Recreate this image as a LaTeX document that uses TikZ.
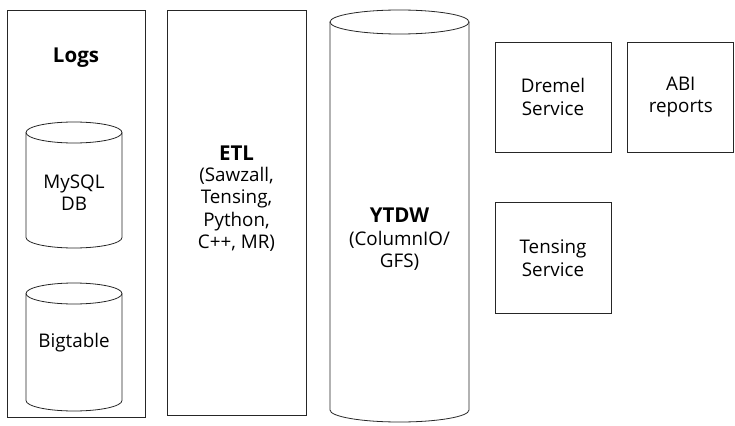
\documentclass[tikz,border=0pt]{standalone}
\usepackage{fontspec}
\setmainfont{Open Sans}
\usetikzlibrary{positioning}

\tikzset{
  box/.style={draw=black!85, line width=0.8pt, inner sep=0pt},
  label/.style={align=center, font=\fontsize{18.8}{22.3}\selectfont},
  title/.style={align=center, font=\fontsize{20.5}{24}\selectfont\bfseries},
  drum/.style={draw=black!85, line width=0.8pt}
}

\begin{document}
\begin{tikzpicture}[x=1pt,y=-1pt]
    \useasboundingbox (0,0) rectangle (735,425);

    % logs column
    \node[box, minimum width=138pt, minimum height=407pt] (logsbox) at (76,213.5) {};
    \node[title] (logs) at (76,58) {Logs};

    % MySQL drum
    \draw[drum] (26,132.5) -- (26,237.5) arc[start angle=180, end angle=0, x radius=48, y radius=10.5] -- (122,132.5);
    \draw[drum] (74,132.5) ellipse[x radius=48, y radius=10.5];
    \node[label] (mysql) at (74,193) {MySQL\\DB};

    % Bigtable drum
    \draw[drum] (26,293.5) -- (26,400.5) arc[start angle=180, end angle=0, x radius=48, y radius=10.5] -- (122,293.5);
    \draw[drum] (74,293.5) ellipse[x radius=48, y radius=10.5];
    \node[label] (bigtable) at (74,343) {Bigtable};

    % ETL column
    \node[box, minimum width=139pt, minimum height=405pt] (etlbox) at (236.5,212.5) {};
    \node[title] (etl) at (236.5,153) {ETL};
    \node[label, below=0pt of etl] (etltools) {(Sawzall,\\Tensing,\\Python,\\C++, MR)};

    % YTDW drum
    \draw[drum] (330,22) -- (330,410) arc[start angle=180, end angle=0, x radius=69.5, y radius=12] -- (469,22);
    \draw[drum] (399.5,22) ellipse[x radius=69.5, y radius=12];
    \node[title] (ytdw) at (399.5,215) {YTDW};
    \node[label, below=2pt of ytdw] (ytdwstore) {(ColumnIO/\\GFS)};

    % services
    \node[box, label, minimum width=116pt, minimum height=110pt] (dremel) at (553,97) {Dremel\\Service};
    \node[box, label, minimum width=106pt, minimum height=110pt, right=16pt of dremel] (abi) {ABI\\reports};
    \node[box, label, minimum width=116pt, minimum height=111pt, below=50pt of dremel] (tensing) {Tensing\\Service};
\end{tikzpicture}
\end{document}
